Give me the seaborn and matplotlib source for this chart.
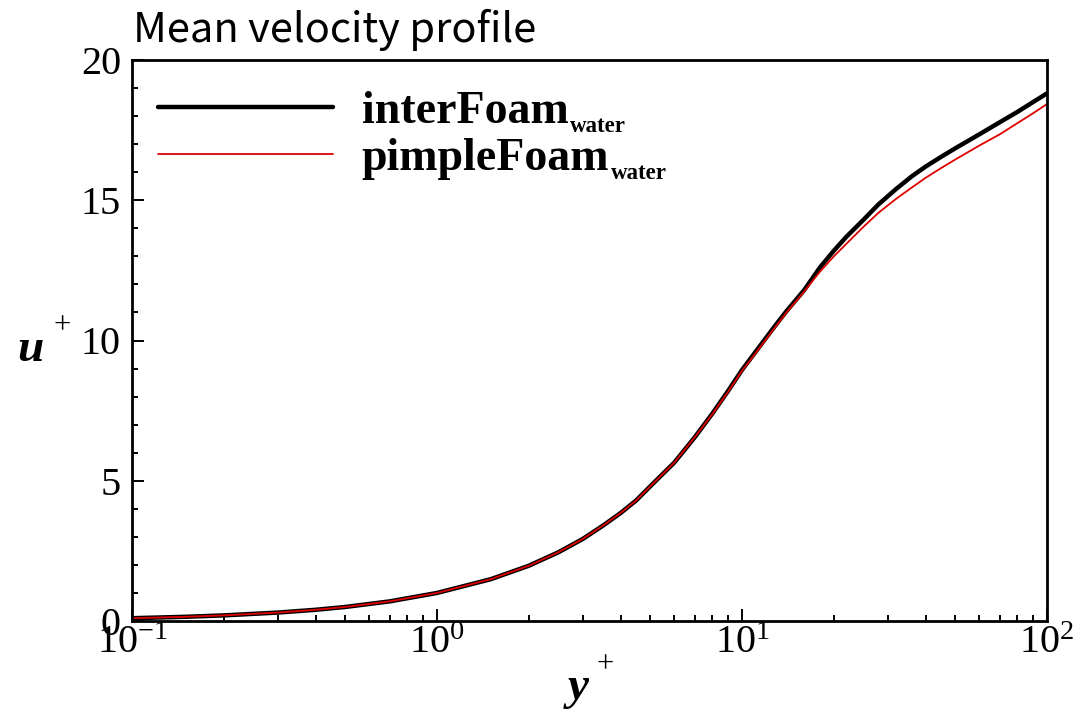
import numpy as np
import pandas as pd
import matplotlib
matplotlib.use("Agg")
import matplotlib.pyplot as plt
from matplotlib.ticker import (LogLocator, MultipleLocator, LogFormatterMathtext,
                               NullFormatter, FormatStrFormatter)
import seaborn as sns

# Mean velocity profile in wall units
y_plus = [0.1, 0.15, 0.2, 0.3, 0.4, 0.5, 0.7, 1.0, 1.5, 2.0, 2.5, 3.0, 3.5, 4.0, 4.5,
          5.0, 6.0, 7.0, 8.0, 9.0, 10.0, 11.0, 12.0, 13.0, 14.0, 16.0, 18.0, 20.0,
          22.0, 25.0, 28.0, 32.0, 36.0, 40.0, 45.0, 50.0, 60.0, 70.0, 80.0, 90.0, 100.0]
u_interfoam = [0.1, 0.15, 0.2, 0.3, 0.4, 0.5, 0.7, 1.0, 1.49, 1.97, 2.45, 2.92, 3.4, 3.85, 4.3,
               4.8, 5.65, 6.55, 7.4, 8.2, 8.95, 9.55, 10.1, 10.6, 11.05, 11.8, 12.6, 13.2,
               13.7, 14.3, 14.85, 15.4, 15.85, 16.2, 16.55, 16.85, 17.35, 17.78, 18.15, 18.5, 18.81]
u_pimplefoam = [0.1, 0.15, 0.2, 0.3, 0.4, 0.5, 0.7, 1.0, 1.49, 1.97, 2.45, 2.92, 3.4, 3.85, 4.3,
                4.8, 5.65, 6.55, 7.38, 8.17, 8.92, 9.5, 10.05, 10.55, 11.0, 11.75, 12.45, 13.0,
                13.45, 14.05, 14.55, 15.05, 15.45, 15.8, 16.15, 16.45, 16.95, 17.35, 17.75, 18.1, 18.43]

series_names = ["interFoam", "pimpleFoam"]
series_subscript = "water"
series_colors = ["#000000", "#e00000"]
series_widths = [3.2, 1.3]

sns.set_theme(style="white")
plt.rcParams.update({
    "font.family": ["Liberation Serif", "DejaVu Serif"],
    "mathtext.fontset": "custom",
    "mathtext.rm": "Liberation Serif",
    "mathtext.it": "Liberation Serif:italic:bold",
    "mathtext.bf": "Liberation Serif:bold",
    "axes.edgecolor": "black",
    "axes.linewidth": 2.0,
    "text.color": "black",
    "xtick.color": "black",
    "ytick.color": "black",
})

W, H = 1079, 711
fig = plt.figure(figsize=(W / 100, H / 100), dpi=100)
ax_l, ax_r, ax_t, ax_b = 132, 1047, 60, 621
ax = fig.add_axes([ax_l / W, 1 - ax_b / H, (ax_r - ax_l) / W, (ax_b - ax_t) / H])

df = pd.DataFrame({"y": y_plus, "interFoam": u_interfoam, "pimpleFoam": u_pimplefoam})
for name, c, lw in zip(series_names, series_colors, series_widths):
    sns.lineplot(data=df, x="y", y=name, ax=ax, color=c, linewidth=lw, label=name)

ax.set_xscale("log")
ax.set_xlim(0.1, 100)
ax.set_ylim(0, 20)
ax.set_xlabel("")
ax.set_ylabel("")

ax.xaxis.set_major_locator(LogLocator(base=10, numticks=10))
ax.xaxis.set_minor_locator(LogLocator(base=10, subs=np.arange(2, 10), numticks=20))
ax.xaxis.set_major_formatter(LogFormatterMathtext())
ax.xaxis.set_minor_formatter(NullFormatter())
ax.yaxis.set_major_locator(MultipleLocator(5))
ax.yaxis.set_minor_locator(MultipleLocator(1))
ax.yaxis.set_major_formatter(FormatStrFormatter("%d"))

ax.tick_params(which="both", direction="in", bottom=True, left=True,
               top=False, right=False, colors="black", width=1.4)
ax.tick_params(which="major", length=8.5, labelsize=29)
ax.tick_params(which="minor", length=4.5)
ax.tick_params(axis="x", which="major", pad=3)
ax.tick_params(axis="y", which="major", pad=8)
for s in ax.spines.values():
    s.set_visible(True)
    s.set_color("black")
    s.set_linewidth(2.0)

leg = ax.legend(loc="upper left", bbox_to_anchor=(0.028, 0.944), frameon=False,
                prop={"family": "Liberation Serif", "weight": "bold", "size": 33},
                handlelength=3.82, handletextpad=0.63,
                labelspacing=0.1, borderpad=0, borderaxespad=0)

# Subscripts after each legend entry (drawn after the legend so its layout is final)
for t in leg.get_texts():
    ax.annotate(series_subscript, xy=(1, 0), xycoords=t, xytext=(1, 1),
                textcoords="offset points", ha="left", va="baseline",
                fontsize=16.5, fontweight="bold", family="Liberation Serif",
                zorder=10)

# Axis titles
fig.text(578 / W, 1 - 688 / H, "y", fontsize=34, fontweight="bold",
         fontstyle="italic", ha="center", va="center")
fig.text(605 / W, 1 - 665 / H, "+", fontsize=22, ha="center", va="center")
fig.text(30 / W, 1 - 350 / H, "u", fontsize=34, fontweight="bold",
         fontstyle="italic", ha="center", va="center")
fig.text(62 / W, 1 - 326 / H, "+", fontsize=22, ha="center", va="center")

fig.text(133 / W, 1 - 42 / H, "Mean velocity profile", fontsize=30,
         family=["Noto Sans CJK KR", "DejaVu Sans"], ha="left", va="baseline")

fig.savefig("out.png", dpi=100)
